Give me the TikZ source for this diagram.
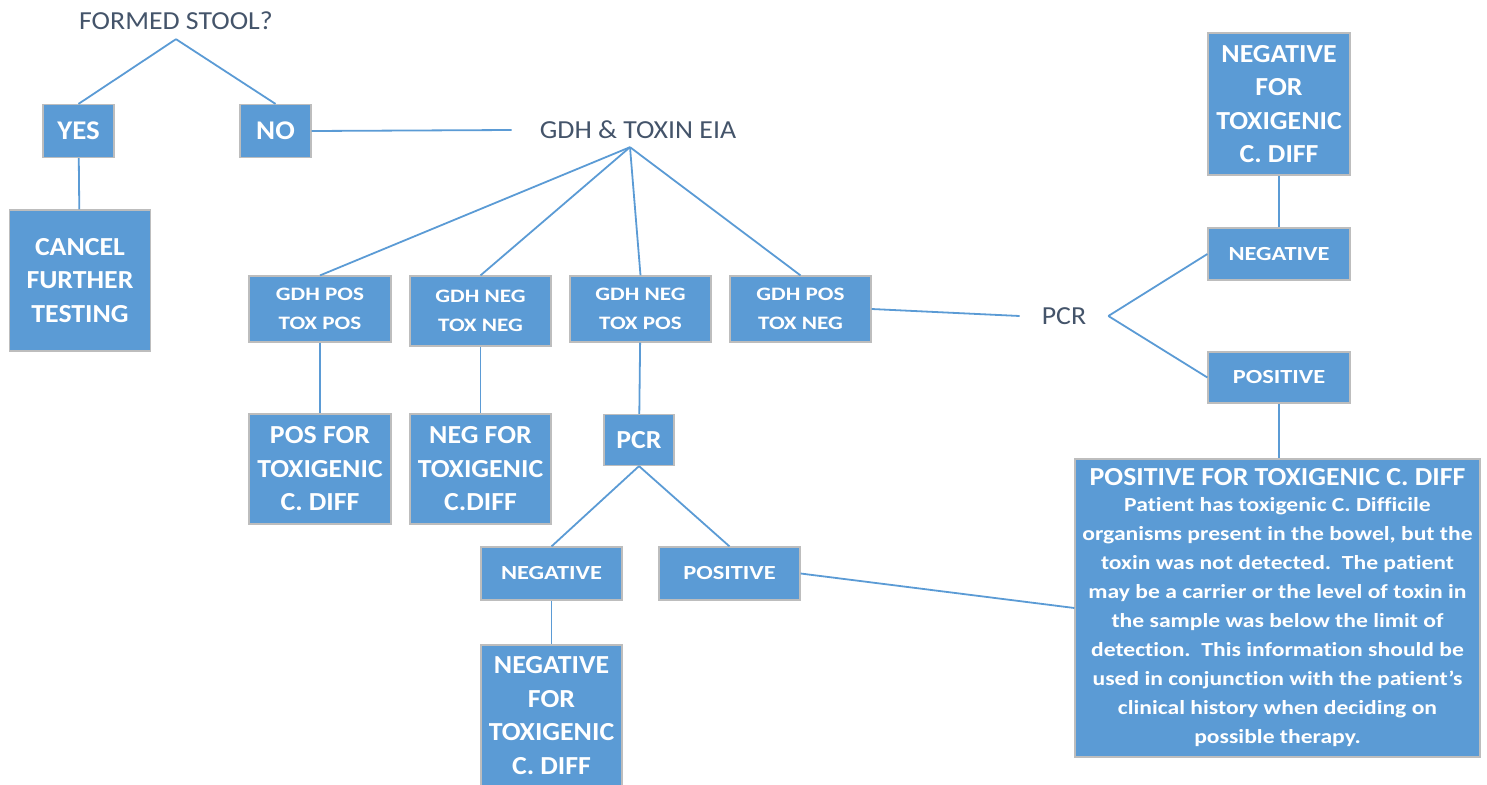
\documentclass[tikz,border=0pt]{standalone}
\usepackage{fontspec}
\setmainfont{Carlito}[FakeStretch=1.07]
\newfontfamily\widefont{Carlito}[FakeStretch=1.22, Ligatures=NoCommon]
\newfontfamily\bodyfont{Carlito}[FakeStretch=1.18, Ligatures=NoCommon]
\usetikzlibrary{calc}
\definecolor{boxblue}{HTML}{5B9BD5}
\definecolor{boxedge}{HTML}{BDBDBD}
\definecolor{labelgray}{HTML}{44546A}
\newcommand{\bigsize}{\fontsize{26}{33.5}\selectfont}
\newcommand{\smallsize}{\widefont\fontsize{19}{29}\selectfont}
\newcommand{\wordsize}{\widefont\fontsize{20}{24}\selectfont}

\begin{document}
\begin{tikzpicture}[x=1pt, y=-1pt,
    box/.style = {draw=boxedge, line width=1.2pt, fill=boxblue, text=white,
                  align=center, inner sep=0pt, font=\bfseries},
    question/.style = {text=labelgray, inner sep=4pt, font=\fontsize{26}{30}\selectfont},
    link/.style = {draw=boxblue, line width=1.8pt}]
    \useasboundingbox (0,0) rectangle (1487,784);

    % first question
    \node[question] (stool) at (176,21) {FORMED STOOL?};
    \node[box, minimum width=71pt, minimum height=53pt, font=\bfseries\fontsize{27}{30}\selectfont] (yes) at (78.5,131) {YES};
    \node[box, minimum width=71pt, minimum height=53pt, font=\bfseries\fontsize{27}{30}\selectfont] (no) at (275.5,131) {NO};
    \node[box, minimum width=141pt, minimum height=141pt, font=\bfseries\bigsize] (cancel) at (80,280.5) {CANCEL\\FURTHER\\TESTING};

    % EIA results
    \node[question] (eia) at (638,130) {GDH \& TOXIN EIA};
    \node[box, minimum width=142pt, minimum height=66pt, font=\bfseries\smallsize] (gpp) at (320,309) {GDH POS\\TOX POS};
    \node[box, minimum width=141pt, minimum height=70pt, font=\bfseries\smallsize] (gnn) at (480.5,311) {GDH NEG\\TOX NEG};
    \node[box, minimum width=141pt, minimum height=66pt, font=\bfseries\smallsize] (gnp) at (640.5,309) {GDH NEG\\TOX POS};
    \node[box, minimum width=141pt, minimum height=66pt, font=\bfseries\smallsize] (gpn) at (800.5,309) {GDH POS\\TOX NEG};

    \node[box, minimum width=142pt, minimum height=110pt, font=\bfseries\bigsize] (posfor) at (320,469) {POS FOR\\TOXIGENIC\\C. DIFF};
    \node[box, minimum width=141pt, minimum height=110pt, font=\bfseries\bigsize] (negfor) at (480.5,469) {NEG FOR\\TOXIGENIC\\C.DIFF};

    % PCR below GDH NEG / TOX POS
    \node[box, minimum width=70pt, minimum height=51pt, font=\bfseries\fontsize{26}{30}\selectfont] (pcrbox) at (639,440) {PCR};
    \node[box, minimum width=141pt, minimum height=53pt, font=\bfseries\wordsize] (negmid) at (551.5,573.5) {NEGATIVE};
    \node[box, minimum width=141pt, minimum height=53pt, font=\bfseries\wordsize] (posmid) at (729.5,573.5) {POSITIVE};
    \node[box, minimum width=141pt, minimum height=150pt, font=\bfseries\bigsize, text depth=9pt] (negend) at (551.5,720) {NEGATIVE\\FOR\\TOXIGENIC\\C. DIFF};

    % PCR after GDH POS / TOX NEG
    \node[question, inner xsep=22pt] (pcrtext) at (1064,316) {PCR};
    \node[box, minimum width=142pt, minimum height=142pt, font=\bfseries\bigsize] (negtop) at (1279,104) {NEGATIVE\\FOR\\TOXIGENIC\\C. DIFF};
    \node[box, minimum width=142pt, minimum height=52pt, font=\bfseries\wordsize] (negright) at (1279,254) {NEGATIVE};
    \node[box, minimum width=142pt, minimum height=51pt, font=\bfseries\wordsize] (posright) at (1279,377.5) {POSITIVE};
    \node[box, minimum width=405pt, minimum height=298pt, font=\bfseries\bodyfont\fontsize{20}{29}\selectfont] (bigbox) at (1277.5,608)
      {{\normalfont\bfseries\fontsize{26}{29}\selectfont POSITIVE FOR TOXIGENIC C. DIFF}\\[-3pt]
       Patient has toxigenic C. Difficile\\
       organisms present in the bowel, but the\\
       toxin was not detected.\ \ The patient\\
       may be a carrier or the level of toxin in\\
       the sample was below the limit of\\
       detection.\ \ This information should be\\
       used in conjunction with the patient’s\\
       clinical history when deciding on\\
       possible therapy.};

    % connectors
    \draw[link] ([yshift=-5pt]stool.south) -- (yes.north);
    \draw[link] ([yshift=-5pt]stool.south) -- (no.north);
    \draw[link] (yes) -- (cancel);
    \draw[link] (no.east) -- ([xshift=-24pt]eia.west);
    \foreach \b in {gpp,gnn,gnp,gpn}
      \draw[link] ([xshift=-8pt,yshift=-4pt]eia.south) -- (\b.north);
    \draw[link] (gpp) -- (posfor);
    \draw[link] (gnn) -- (negfor);
    \draw[link] (gnp) -- (pcrbox);
    \draw[link] (pcrbox.south) -- (negmid.north);
    \draw[link] (pcrbox.south) -- (posmid.north);
    \draw[link] (negmid) -- (negend);
    \draw[link] (posmid.east) -- (bigbox.west);
    \draw[link] (gpn.east) -- (pcrtext.west);
    \draw[link] (pcrtext.east) -- (negright.west);
    \draw[link] (pcrtext.east) -- (posright.west);
    \draw[link] (negright) -- (negtop);
    \draw[link] (posright.south) -- (posright.south |- bigbox.north);
\end{tikzpicture}
\end{document}
